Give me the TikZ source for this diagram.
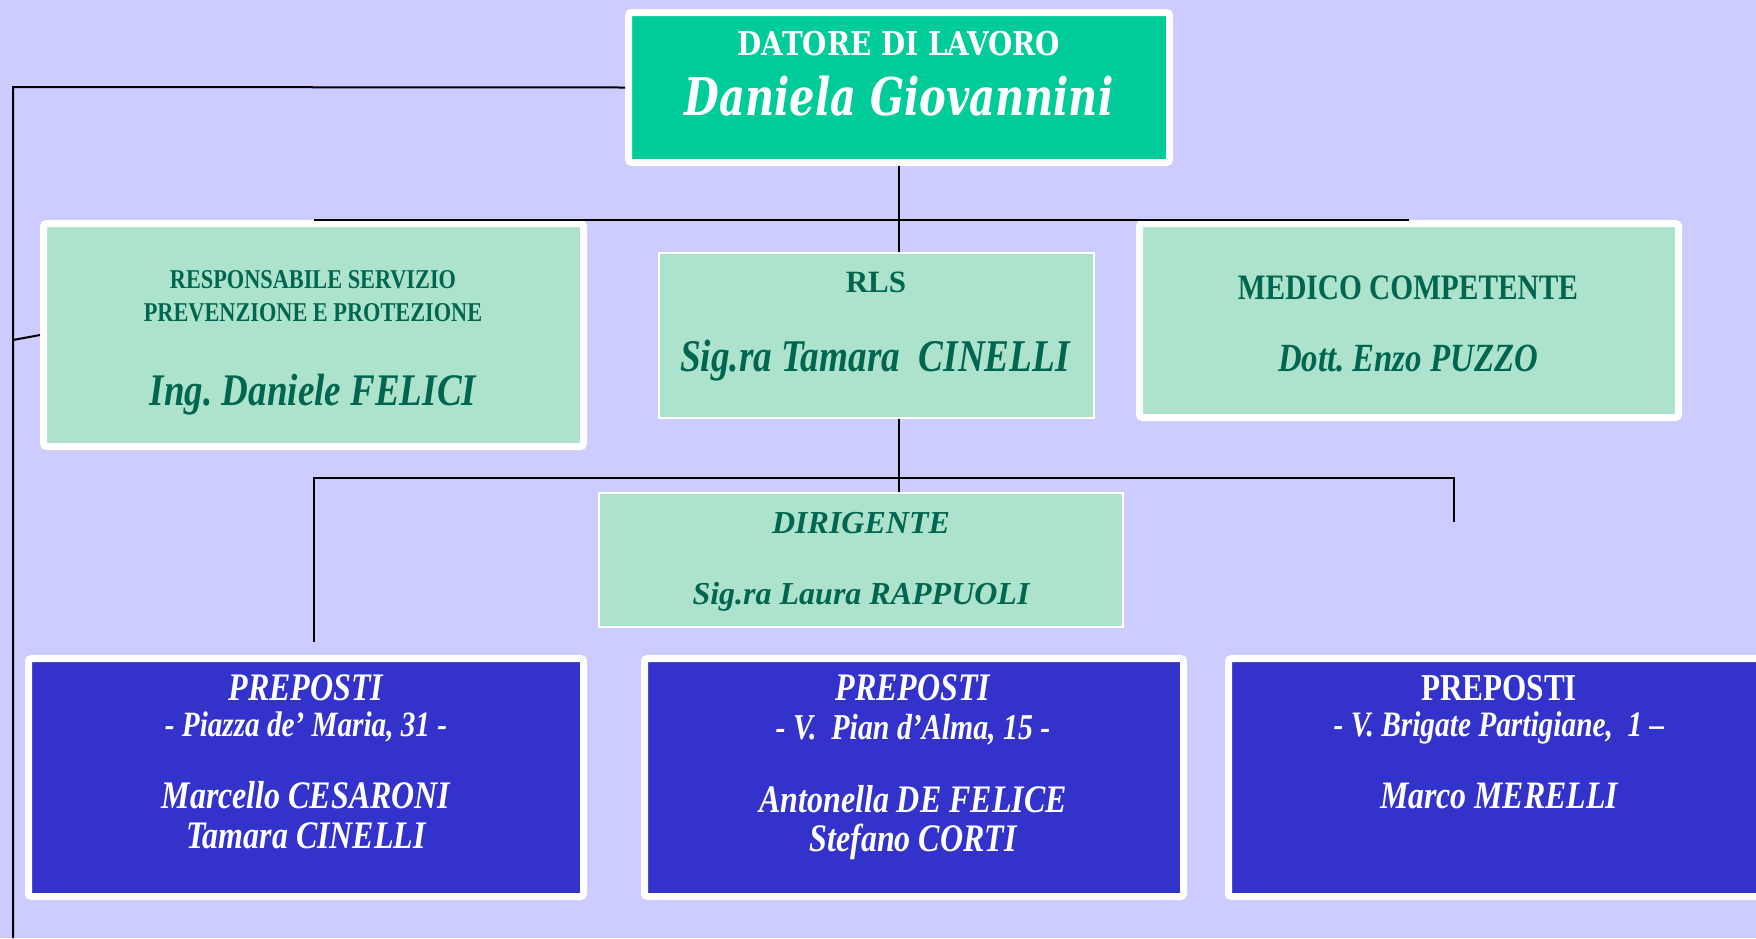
\documentclass[tikz,border=0pt]{standalone}
\usepackage{fontspec}
\setmainfont{Liberation Serif}
\newfontfamily\narrowserif[FakeStretch=0.82]{Liberation Serif}
\newfontfamily\bossserif[FakeStretch=0.85]{DejaVu Serif}
\newfontfamily\bossname[FakeStretch=0.77]{DejaVu Serif}
\usetikzlibrary{positioning}
\definecolor{lavender}{HTML}{CCCCFF}
\definecolor{bossgreen}{HTML}{00CC99}
\definecolor{palegreen}{HTML}{ADE3CC}
\definecolor{inkgreen}{HTML}{006650}
\definecolor{prepblue}{HTML}{3333CC}
\frenchspacing

\begin{document}
\begin{tikzpicture}[x=0.5pt, y=-0.5pt,
    boxframe/.style={rectangle, draw=white, line width=3.5pt, rounded corners=1.5pt, inner sep=0pt},
    thinframe/.style={rectangle, draw=white, line width=0.7pt, inner sep=0pt},
    txt/.style={anchor=base, align=center, inner sep=0pt},
    link/.style={line width=1pt}
]
    \fill[lavender] (0,0) rectangle (1756,938);
    \useasboundingbox (0,0) rectangle (1756,938);

    % boxes
    \node[boxframe, fill=bossgreen, minimum width=270.5pt, minimum height=75pt] (boss) at (899,87.5) {};
    \node[boxframe, fill=palegreen, minimum width=270pt, minimum height=111.5pt] (rspp) at (313.5,335) {};
    \node[thinframe, fill=palegreen, minimum width=217.5pt, minimum height=82.5pt] (rls) at (876.5,335.5) {};
    \node[boxframe, fill=palegreen, minimum width=269.5pt, minimum height=97pt] (medico) at (1409,320.5) {};
    \node[thinframe, fill=palegreen, minimum width=262pt, minimum height=67pt] (dirig) at (861,560) {};
    \node[boxframe, fill=prepblue, minimum width=277.5pt, minimum height=119pt] (prepA) at (306,777.5) {};
    \node[boxframe, fill=prepblue, minimum width=269.5pt, minimum height=119pt] (prepB) at (914,777.5) {};
    \node[boxframe, fill=prepblue, minimum width=277.5pt, minimum height=119pt] (prepC) at (1506,777.5) {};

    % connectors
    \coordinate (barTop) at (13,87);
    \coordinate (barEnd) at (13,938);
    \coordinate (rsppTap) at (13,340);
    \coordinate (midBar) at (899,478);
    \coordinate (prepTap) at (314,642);
    \coordinate (rightTap) at (1454,522);
    \draw[link] (boss.west) -- (barTop) -- (barEnd);
    \draw[link] (rsppTap) -- (rspp.west);
    \draw[link] (boss.south) -- (boss.south |- rls.north);
    \draw[link] (rspp.north) -- (medico.north);
    \draw[link] (midBar |- rls.south) -- (midBar |- dirig.north);
    \draw[link] (prepTap) |- (midBar) -| (rightTap);

    % texts (multi-line nodes sit on their last baseline)
    \node[txt, text=white, font=\bossserif\bfseries\fontsize{16.4}{30}\selectfont] (bossText) at (899,115)
        {DATORE DI LAVORO\\{\bossname\bfseries\itshape\fontsize{26}{30}\selectfont Daniela Giovannini}};
    \node[txt, text=inkgreen, font=\narrowserif\bfseries\fontsize{13.6}{16.25}\selectfont] (rsppText) at (313,321)
        {RESPONSABILE SERVIZIO\\PREVENZIONE E PROTEZIONE};
    \node[txt, text=inkgreen, font=\narrowserif\bfseries\itshape\fontsize{22.6}{26}\selectfont] (rsppName) at (313,405.5)
        {Ing. Daniele FELICI};
    \node[txt, text=inkgreen, font=\bfseries\fontsize{15.5}{18}\selectfont] (rlsText) at (876,292.5) {RLS};
    \node[txt, text=inkgreen, font=\narrowserif\bfseries\itshape\fontsize{22.7}{26}\selectfont] (rlsName) at (875,371.5)
        {Sig.ra Tamara\ \ CINELLI};
    \node[txt, text=inkgreen, font=\narrowserif\bfseries\fontsize{17.9}{22}\selectfont] (medicoText) at (1408,299)
        {MEDICO COMPETENTE};
    \node[txt, text=inkgreen, font=\narrowserif\bfseries\itshape\fontsize{20}{22}\selectfont] (medicoName) at (1408,371)
        {Dott. Enzo PUZZO};
    \node[txt, text=inkgreen, font=\bfseries\itshape\fontsize{16}{19}\selectfont] (dirigText) at (861,533) {DIRIGENTE};
    \node[txt, text=inkgreen, font=\bfseries\itshape\fontsize{16}{19}\selectfont] (dirigName) at (861,604)
        {Sig.ra Laura RAPPUOLI};

    \node[txt, text=white, font=\narrowserif\bfseries\itshape\fontsize{17.8}{18}\selectfont] (prepAText) at (306,736.5)
        {{\fontsize{19.5}{18}\selectfont PREPOSTI}\\- Piazza de’ Maria, 31 -};
    \node[txt, text=white, font=\narrowserif\bfseries\itshape\fontsize{19.5}{20}\selectfont] (prepAName) at (306,848.5)
        {Marcello CESARONI\\Tamara CINELLI};
    \node[txt, text=white, font=\narrowserif\bfseries\itshape\fontsize{18.2}{19.5}\selectfont] (prepBText) at (913,739.5)
        {{\fontsize{19.5}{19.5}\selectfont PREPOSTI}\\- V.\ \ Pian d’Alma, 15 -};
    \node[txt, text=white, font=\narrowserif\bfseries\itshape\fontsize{19.5}{19.5}\selectfont] (prepBName) at (913,851.5)
        {Antonella DE FELICE\\Stefano CORTI};
    \node[txt, text=white, font=\narrowserif\bfseries\itshape\fontsize{17.9}{18}\selectfont] (prepCText) at (1499,736.5)
        {{\upshape\fontsize{19}{18}\selectfont PREPOSTI}\\- V. Brigate Partigiane,\ \ 1 –};
    \node[txt, text=white, font=\narrowserif\bfseries\itshape\fontsize{19.4}{20}\selectfont] (prepCName) at (1499,808)
        {Marco MERELLI};
\end{tikzpicture}
\end{document}
